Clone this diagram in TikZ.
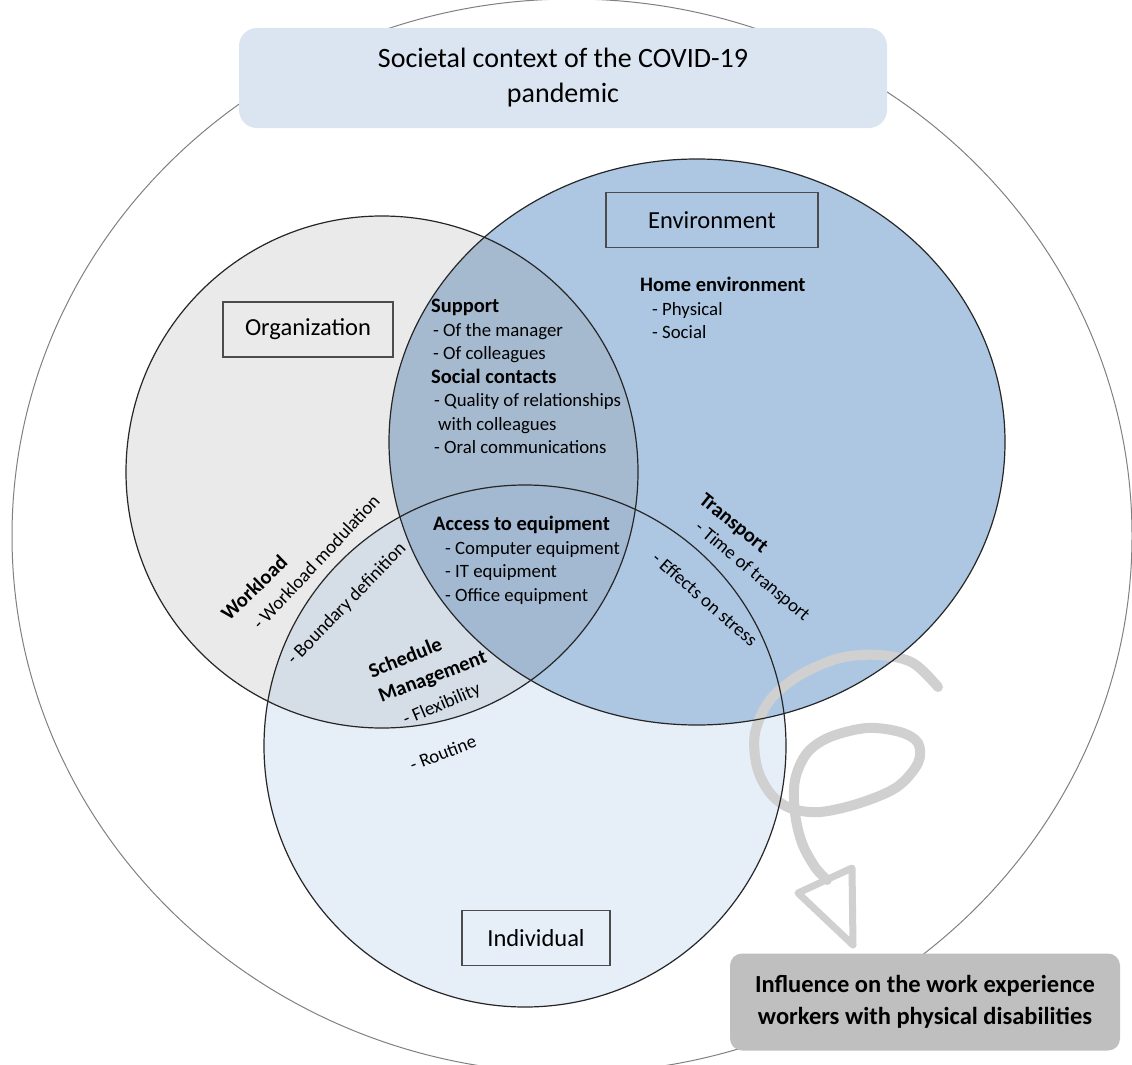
\documentclass[tikz,border=0pt]{standalone}
\usepackage{fontspec}
\setmainfont{Carlito}
\usepackage{tikz}
\usepackage{xcolor}
\definecolor{org-fill}{HTML}{EAEAEA}
\definecolor{env-fill}{HTML}{ADC7E3}
\definecolor{ind-fill}{HTML}{E6EEF8}
\definecolor{orgenv-fill}{HTML}{A6BACF}
\definecolor{orgind-fill}{HTML}{D5DDE7}
\definecolor{core-fill}{HTML}{A3B9D2}
\definecolor{title-blue}{HTML}{DBE5F1}
\definecolor{result-gray}{HTML}{BFBFBF}
\definecolor{curl-gray}{HTML}{D0D0D0}
\newcommand{\headfont}{\bfseries\fontsize{20.5}{23.5}\selectfont}
\tikzset{
    venn-circle/.style = {draw=black!85, line width=1.2pt},
    label-box/.style = {draw=black!70, line width=1.3pt, rectangle, minimum height=55pt, font=\fontsize{24.5}{29}\selectfont},
    title-box/.style = {fill=title-blue, rounded corners=18pt, minimum width=648pt, minimum height=100pt, align=center, font=\fontsize{28}{35}\selectfont},
    result-box/.style = {fill=result-gray, rounded corners=12pt, minimum width=390pt, minimum height=97pt, align=center, font=\bfseries\fontsize{24.5}{32}\selectfont},
    item-block/.style = {anchor=north west, align=left, inner sep=0pt, font=\fontsize{18.8}{23.5}\selectfont},
    turned-item/.style = {inner sep=0pt, font=\fontsize{18.8}{22}\selectfont},
    turned-head/.style = {inner sep=0pt, font=\bfseries\fontsize{20.5}{24}\selectfont},
    curl-line/.style = {draw=curl-gray, line width=10pt, line cap=round, line join=round},
}

\begin{document}
\begin{tikzpicture}[x=1pt, y=-1pt]
\useasboundingbox (0,0) rectangle (1132,1065);
\coordinate (world-c) at (572,536);
\coordinate (org-c) at (382,472);
\coordinate (env-c) at (697,442);
\coordinate (ind-c) at (525,746);
\draw[draw=black!50, line width=1pt] (world-c) ellipse [x radius=560pt, y radius=537pt];

\fill[ind-fill] (ind-c) circle [radius=261pt];
\fill[env-fill] (env-c) ellipse [x radius=308pt, y radius=283pt];
\fill[org-fill] (org-c) circle [radius=256pt];
\begin{scope}
\clip (org-c) circle [radius=256pt];
\fill[orgind-fill] (ind-c) circle [radius=261pt];
\fill[orgenv-fill] (env-c) ellipse [x radius=308pt, y radius=283pt];
\clip (ind-c) circle [radius=261pt];
\fill[core-fill] (env-c) ellipse [x radius=308pt, y radius=283pt];
\end{scope}

\draw[curl-line] plot[smooth, tension=0.55] coordinates {(938,687) (913,663) (880,655) (840,658) (800,675) (770,700) (755,733) (757,767) (770,793) (790,808) (820,812) (860,803) (897,787) (918,763) (918,743) (900,732) (867,728) (830,737) (807,753) (795,780) (795,813) (802,843) (815,867) (827,880)};
\draw[curl-line, line width=7pt] (798,893) -- (852,868) -- (853,945) -- cycle;

\draw[venn-circle] (org-c) circle [radius=256pt];
\draw[venn-circle] (env-c) ellipse [x radius=308pt, y radius=283pt];
\draw[venn-circle] (ind-c) circle [radius=261pt];

\node[title-box] (societal) at (563,78) {Societal context of the COVID-19\\pandemic};
\node[label-box, minimum width=170pt] (org) at (308,329.5) {Organization};
\node[label-box, minimum width=212pt] (env) at (712,220) {Environment};
\node[label-box, minimum width=148pt] (ind) at (536,938) {Individual};

\node[item-block] (support) at (431,299) {{\headfont Support}\\
\hspace{2pt}- Of the manager\\
\hspace{2pt}- Of colleagues\\
{\headfont Social contacts}\\
\hspace{3pt}- Quality of relationships\\
\hspace{7pt}with colleagues\\
\hspace{3pt}- Oral communications};
\node[item-block] (equipment) at (433,516) {{\headfont Access to equipment}\\
\hspace{12pt}- Computer equipment\\
\hspace{12pt}- IT equipment\\
\hspace{12pt}- Office equipment};
\node[item-block] (home) at (640,277) {{\headfont Home environment}\\
\hspace{12pt}- Physical\\
\hspace{12pt}- Social};

\node[turned-head, rotate=44] (workload) at (254,588) {Workload};
\node[turned-item, rotate=47] (workload-mod) at (316,562) {- Workload modulation};
\node[turned-item, rotate=46] (boundary) at (347,604) {- Boundary definition};
\node[turned-head, rotate=22] (schedule) at (405,657) {Schedule};
\node[turned-head, rotate=21] (management) at (433,678) {Management};
\node[turned-item, rotate=23] (flexibility) at (442,705) {- Flexibility};
\node[turned-item, rotate=21] (routine) at (443,753) {- Routine};
\node[turned-head, rotate=-39] (transport) at (733,524) {Transport};
\node[turned-item, rotate=-40] (transport-time) at (752,572) {- Time of transport};
\node[turned-item, rotate=-41] (stress) at (705,599) {- Effects on stress};

\node[result-box] (influence) at (925,1002) {Influence on the work experience\\workers with physical disabilities};
\end{tikzpicture}
\end{document}
